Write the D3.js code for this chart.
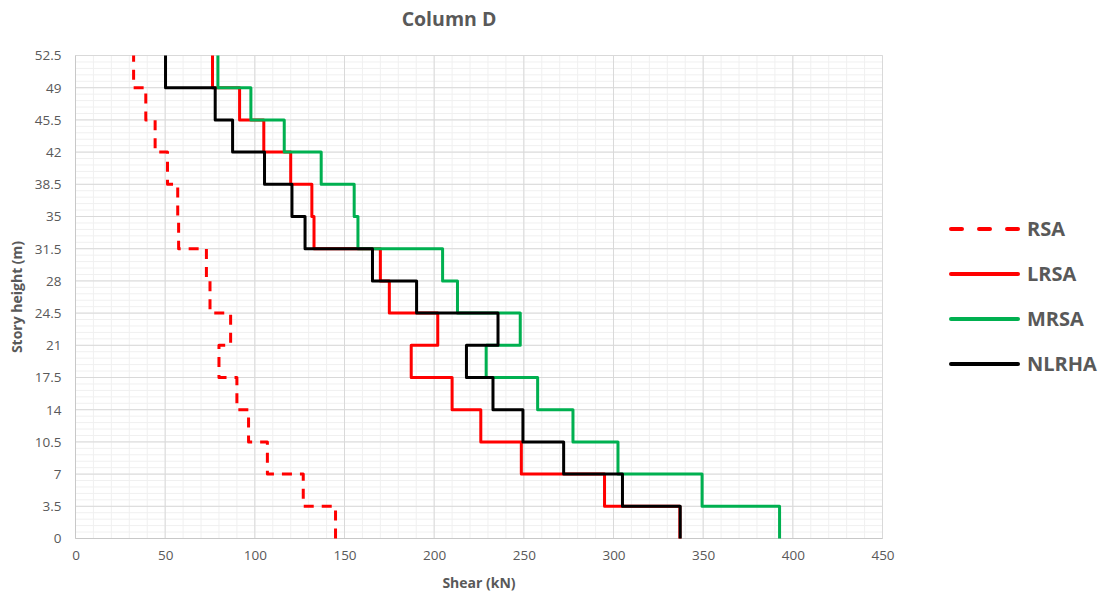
<!DOCTYPE html>
<html>
<head>
<meta charset="utf-8">
<script src="https://cdn.jsdelivr.net/npm/d3@7"></script>
<style>
  html, body { margin: 0; padding: 0; background: #fff; }
  text { font-family: "Open Sans", "Noto Sans", sans-serif; }
</style>
</head>
<body>
<div id="chart"></div>
<script>
// story levels (m) and shear per story (kN), story i spans heights[i]..heights[i+1]
const heights = [0, 3.5, 7, 10.5, 14, 17.5, 21, 24.5, 28, 31.5, 35, 38.5, 42, 45.5, 49, 52.5];
const shearTicks = [0, 50, 100, 150, 200, 250, 300, 350, 400, 450];

const rsa   = [145, 127, 107, 96.5, 90, 80, 86.5, 75, 73, 57.5, 57, 51.3, 44.4, 39.2, 32.4];
const lrsa  = [337, 295, 248.6, 226, 210, 187.2, 202, 175, 170, 133, 131.8, 120, 105, 91.5, 76.4];
const mrsa  = [392.6, 349.4, 302.5, 277.4, 257.7, 229, 248, 213, 204.7, 157.5, 155.4, 137, 116.4, 97.8, 79.4];
const nlrha = [337.2, 305, 272.2, 249.5, 232.8, 218, 235.6, 190.2, 165.6, 128, 120.7, 105.4, 87.6, 77.9, 50.2];

const seriesNames = ["RSA", "LRSA", "MRSA", "NLRHA"];
const seriesValues = [rsa, lrsa, mrsa, nlrha];
const seriesColors = ["#ff0000", "#ff0000", "#00b050", "#000000"];
const seriesDashed = [true, false, false, false];

const width = 1106, height = 597;
const textGray = "#595959";

const svg = d3.select("#chart").append("svg")
  .attr("width", width)
  .attr("height", height);

const x = d3.scaleLinear().domain([0, 450]).range([75.5, 882.5]);
const y = d3.scaleLinear().domain([0, 52.5]).range([538.5, 55.5]);

// title
svg.append("text")
  .attr("x", 449).attr("y", 26)
  .attr("text-anchor", "middle")
  .style("font-size", "19.5px").style("font-weight", "bold")
  .attr("fill", textGray)
  .text("Column D");

// minor grid
const grid = svg.append("g");
grid.selectAll(".vminor")
  .data(d3.range(0, 451, 10))
  .enter().append("line")
  .attr("x1", d => x(d)).attr("x2", d => x(d))
  .attr("y1", y(0)).attr("y2", y(52.5))
  .attr("stroke", "#f0f0f0").attr("stroke-width", 1);
grid.selectAll(".hminor")
  .data(d3.range(0, 76).map(i => i * 0.7))
  .enter().append("line")
  .attr("x1", x(0)).attr("x2", x(450))
  .attr("y1", d => y(d)).attr("y2", d => y(d))
  .attr("stroke", "#f0f0f0").attr("stroke-width", 1);

// major grid
grid.selectAll(".vmajor")
  .data(shearTicks)
  .enter().append("line")
  .attr("x1", d => x(d)).attr("x2", d => x(d))
  .attr("y1", y(0)).attr("y2", y(52.5))
  .attr("stroke", "#d9d9d9").attr("stroke-width", 1);
grid.selectAll(".hmajor")
  .data(heights)
  .enter().append("line")
  .attr("x1", x(0)).attr("x2", x(450))
  .attr("y1", d => y(d)).attr("y2", d => y(d))
  .attr("stroke", "#d9d9d9").attr("stroke-width", 1);

// axis lines
svg.append("line")
  .attr("x1", x(0)).attr("x2", x(0)).attr("y1", y(0)).attr("y2", y(52.5))
  .attr("stroke", "#c8c8c8");
svg.append("line")
  .attr("x1", x(0)).attr("x2", x(450)).attr("y1", y(0)).attr("y2", y(0))
  .attr("stroke", "#c8c8c8");

// axes
const xAxis = svg.append("g")
  .attr("transform", `translate(0,${y(0)})`)
  .call(d3.axisBottom(x).tickValues(shearTicks).tickSize(0).tickPadding(12));
xAxis.select(".domain").remove();
xAxis.selectAll("text")
  .style("font-size", "13.5px").attr("fill", textGray)
  .style("font-family", "'Open Sans', sans-serif");

const yAxis = svg.append("g")
  .attr("transform", `translate(${x(0)},0)`)
  .call(d3.axisLeft(y).tickValues(heights).tickSize(0).tickPadding(14).tickFormat(d => String(d)));
yAxis.select(".domain").remove();
yAxis.selectAll("text")
  .style("font-size", "13.5px").attr("fill", textGray)
  .style("font-family", "'Open Sans', sans-serif");

// axis titles
svg.append("text")
  .attr("x", 479).attr("y", 588)
  .attr("text-anchor", "middle")
  .style("font-size", "14px").style("font-weight", "bold")
  .attr("fill", textGray)
  .text("Shear (kN)");

svg.append("text")
  .attr("transform", `translate(22,297) rotate(-90)`)
  .attr("text-anchor", "middle")
  .style("font-size", "14px").style("font-weight", "bold")
  .attr("fill", textGray)
  .text("Story height (m)");

// step lines: vertical along each story, horizontal at floor levels
const line = d3.line()
  .x(d => x(d[0]))
  .y(d => y(d[1]))
  .curve(d3.curveStepBefore);

seriesValues.forEach((vals, i) => {
  const pts = vals.map((v, k) => [v, heights[k]]);
  pts.push([vals[vals.length - 1], heights[heights.length - 1]]);
  svg.append("path")
    .datum(pts)
    .attr("d", line)
    .attr("fill", "none")
    .attr("stroke", seriesColors[i])
    .attr("stroke-width", 3)
    .attr("stroke-linejoin", "round")
    .attr("stroke-dasharray", seriesDashed[i] ? "10,8" : null);
});

// legend
const legend = svg.append("g");
seriesNames.forEach((name, i) => {
  const ly = 229 + i * 45;
  legend.append("line")
    .attr("x1", 951).attr("x2", 1018)
    .attr("y1", ly).attr("y2", ly)
    .attr("stroke", seriesColors[i])
    .attr("stroke-width", 4)
    .attr("stroke-linecap", "round")
    .attr("stroke-dasharray", seriesDashed[i] ? "11,17" : null);
  legend.append("text")
    .attr("x", 1027).attr("y", ly + 7)
    .style("font-size", "20px").style("font-weight", "bold")
    .attr("fill", textGray)
    .text(name);
});
</script>
</body>
</html>
